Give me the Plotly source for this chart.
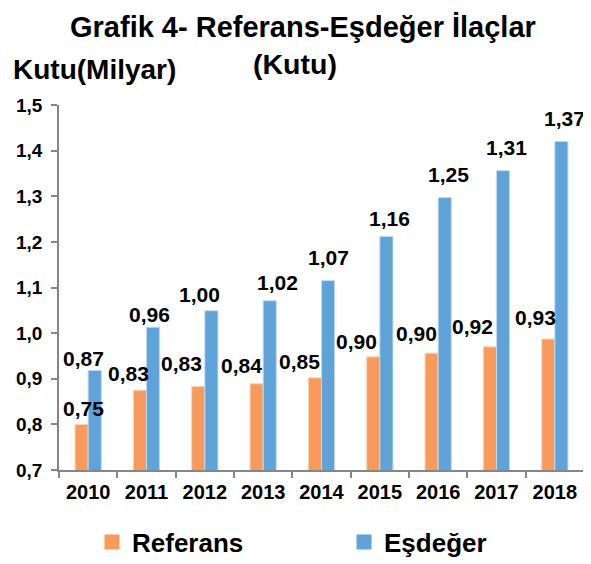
import plotly.graph_objects as go

years = ["2010", "2011", "2012", "2013", "2014", "2015", "2016", "2017", "2018"]
referans_bars = [0.800, 0.875, 0.883, 0.889, 0.902, 0.948, 0.956, 0.970, 0.987]
esdeger_bars = [0.918, 1.013, 1.049, 1.071, 1.115, 1.212, 1.297, 1.356, 1.420]
referans_labels = ["0,75", "0,83", "0,83", "0,84", "0,85", "0,90", "0,90", "0,92", "0,93"]
esdeger_labels = ["0,87", "0,96", "1,00", "1,02", "1,07", "1,16", "1,25", "1,31", "1,37"]
y_ticks = [0.7, 0.8, 0.9, 1.0, 1.1, 1.2, 1.3, 1.4, 1.5]
y_tick_text = ["0,7", "0,8", "0,9", "1,0", "1,1", "1,2", "1,3", "1,4", "1,5"]

# pixel nudges of the value labels relative to the year centre / bar top
ref_dx = [-5, -18, -23, -22, -22, -23, -22, -24, -19]
ref_dy = [16, 17, 23, 18, 16, 15, 20, 20, 22]
esd_dx = [-5, 3, -5, 14, 7, 10, 10, 10, 10]
esd_dy = [12, 13, 16, 18, 23, 18, 23, 23, 23]

FONT = "Liberation Sans"
ORANGE = "#F79A5B"
BLUE = "#5FA3D8"
AXIS = "#868686"

# the page body has an 8px margin, so the figure is 8px smaller than the window
W, H = 583, 556

fig = go.Figure()
fig.add_trace(go.Bar(name="Referans", x=years, y=referans_bars, showlegend=False,
                     marker=dict(color=ORANGE, line=dict(color="#FBD3B5", width=1)),
                     base=0))
fig.add_trace(go.Bar(name="Eşdeğer", x=years, y=esdeger_bars, showlegend=False,
                     marker=dict(color=BLUE, line=dict(color="#BFDAF0", width=1)),
                     base=0))
# legend swatches
fig.add_trace(go.Scatter(name="<b>Referans</b>", x=[None], y=[None], mode="markers",
                         marker=dict(symbol="square", size=15, color=ORANGE)))
fig.add_trace(go.Scatter(name="<b>Eşdeğer</b>", x=[None], y=[None], mode="markers",
                         marker=dict(symbol="square", size=15, color=BLUE)))

annotations = []
for i, yr in enumerate(years):
    annotations.append(dict(x=i, y=referans_bars[i], xref="x", yref="y",
                            text="<b>" + referans_labels[i] + "</b>", showarrow=False,
                            xshift=ref_dx[i], yshift=ref_dy[i], yanchor="middle",
                            font=dict(family=FONT, size=21, color="black")))
    annotations.append(dict(x=i, y=esdeger_bars[i], xref="x", yref="y",
                            text="<b>" + esdeger_labels[i] + "</b>", showarrow=False,
                            xshift=esd_dx[i], yshift=esd_dy[i], yanchor="middle",
                            font=dict(family=FONT, size=21, color="black")))

annotations += [
    dict(text="<b>Grafik 4- Referans-Eşdeğer İlaçlar</b>", xref="paper", yref="paper",
         x=(295 - 51) / 525, y=1, yanchor="middle", xanchor="center", yshift=78,
         showarrow=False, font=dict(family=FONT, size=29, color="black")),
    dict(text="<b>(Kutu)</b>", xref="paper", yref="paper",
         x=(287 - 51) / 525, y=1, yanchor="middle", xanchor="center", yshift=41,
         showarrow=False, font=dict(family=FONT, size=28.5, color="black")),
    dict(text="<b>Kutu(Milyar)</b>", xref="paper", yref="paper",
         x=0, y=1, yanchor="middle", xanchor="left", yshift=36, xshift=-48,
         showarrow=False, font=dict(family=FONT, size=28, color="black")),
]

fig.update_layout(
    width=W, height=H,
    margin=dict(l=51, r=7, t=97, b=94, autoexpand=False),
    paper_bgcolor="white", plot_bgcolor="white",
    barmode="group", bargap=0.55, bargroupgap=0,
    showlegend=True,
    legend=dict(orientation="h", x=84 / W, xref="container", y=22 / H,
                yref="container", yanchor="middle", xanchor="left",
                entrywidth=207, tracegroupgap=0, itemsizing="trace",
                font=dict(family=FONT, size=26, color="black")),
    annotations=annotations,
    font=dict(family=FONT, color="black"),
)
fig.update_yaxes(range=[0.7, 1.5], tickvals=y_ticks, ticktext=y_tick_text,
                 showgrid=False, showline=True, linecolor=AXIS, linewidth=1.5,
                 ticks="outside", ticklen=6, tickcolor=AXIS, tickwidth=1.5,
                 ticklabelstandoff=5,
                 tickfont=dict(family=FONT, size=19, color="black", weight="bold"),
                 zeroline=False)
fig.update_xaxes(type="category", range=[-0.5, 8.5], showgrid=False, showline=True,
                 linecolor=AXIS, linewidth=1.5, ticks="outside", ticklen=6,
                 tickcolor=AXIS, tickwidth=1.5, tickson="boundaries", tickangle=0,
                 ticklabelstandoff=3,
                 tickfont=dict(family=FONT, size=20, color="black", weight="bold"))

fig.write_html("out.html")
